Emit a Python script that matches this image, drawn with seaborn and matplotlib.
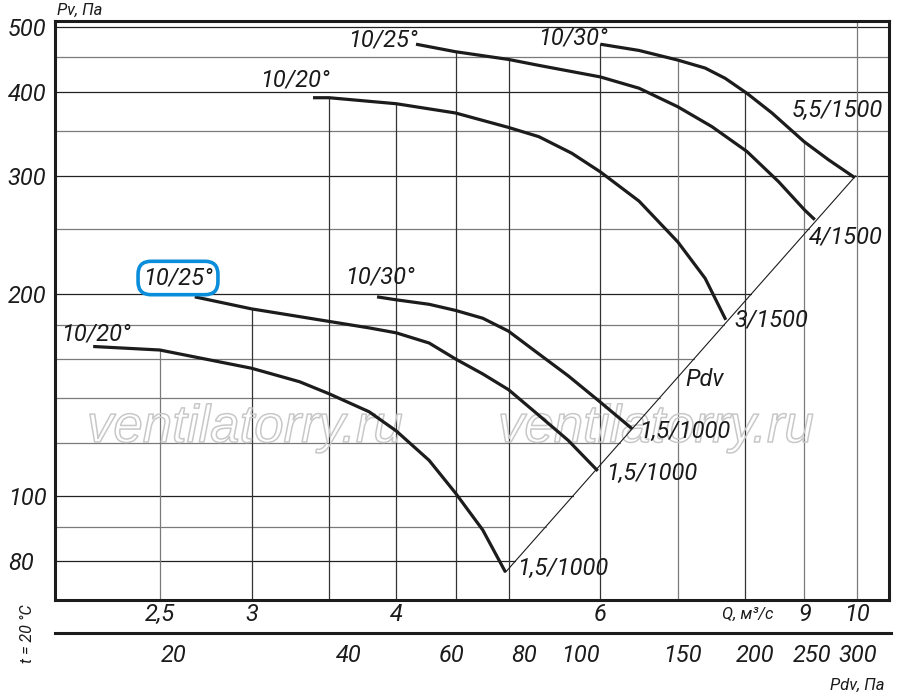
import numpy as np
import pandas as pd
import seaborn as sns
import matplotlib.pyplot as plt
import matplotlib.patheffects as pe
from matplotlib.ticker import NullLocator

# fan curves: Q in m3/s, Pv in Pa
q_2020_low = [2.19, 2.50, 3.00, 3.30, 3.50, 3.79, 4.00, 4.27, 4.50, 4.75, 4.97]
pv_2020_low = [167, 165, 155, 148, 142, 133.5, 125, 113, 101, 89, 77]

q_2025_low = [2.68, 3.00, 3.50, 3.79, 4.00, 4.27, 4.50, 4.75, 5.00, 5.28, 5.63, 5.97]
pv_2025_low = [198, 190, 182, 178, 175, 169, 160, 152, 144, 133, 121, 109]

q_2030_low = [3.85, 4.00, 4.27, 4.50, 4.75, 5.00, 5.28, 5.63, 6.00, 6.39]
pv_2030_low = [198, 196, 193, 189, 184, 176, 164, 151, 138, 126]

q_2020_up = [3.39, 3.50, 4.00, 4.50, 5.00, 5.31, 5.67, 6.00, 6.48, 7.00, 7.39, 7.70]
pv_2020_up = [392, 392, 384, 372, 354, 343, 324, 304, 275, 239, 211, 183]

q_2025_up = [4.16, 4.50, 5.00, 5.31, 6.00, 6.48, 7.00, 7.49, 8.03, 8.55, 9.00, 9.19]
pv_2025_up = [471, 459, 447, 438, 421, 405, 380, 355, 326, 294, 267, 258]

q_2030_up = [6.00, 6.48, 7.00, 7.39, 7.69, 8.03, 8.44, 9.00, 9.44, 9.95]
pv_2030_up = [471, 461, 446, 434, 419, 398, 372, 337, 317, 298]

# dynamic pressure line (Pv = Pdv) through the curve ends
pdv_q = [4.97, 9.97]
pdv_pv = [77, 300]

# grid and ticks
grid_pv_short = [80, 90, 100, 120, 140, 160, 180, 200, 250]
grid_pv_full = [300, 350, 400, 450, 500]
grid_q = [2.5, 3, 3.5, 4, 4.5, 5, 6, 7, 8, 9, 10]
pv_ticks = [80, 100, 200, 300, 400, 500]
q_ticks = [2.5, 3, 4, 6, 9, 10]
q_labels = ["2,5", "3", "4", "6", "9", "10"]
pdv_ticks = [20, 40, 60, 80, 100, 150, 200, 250, 300]

curves = {
    "low 10/20": (q_2020_low, pv_2020_low),
    "low 10/25": (q_2025_low, pv_2025_low),
    "low 10/30": (q_2030_low, pv_2030_low),
    "up 10/20": (q_2020_up, pv_2020_up),
    "up 10/25": (q_2025_up, pv_2025_up),
    "up 10/30": (q_2030_up, pv_2030_up),
}

sns.set_style("white")
plt.rcParams["font.family"] = ["Roboto", "DejaVu Sans"]
plt.rcParams["font.style"] = "italic"
plt.rcParams["text.color"] = "#1a1a1a"

W, H = 900, 694
INK = "#1c1c1c"
fig = plt.figure(figsize=(9, 6.94), dpi=100)
L, R, T, B = 55, 889, 21, 600
ax = fig.add_axes([L / W, 1 - B / H, (R - L) / W, (B - T) / H])
ax.set_xscale("log")
ax.set_yscale("log")
xlim = (2.03, 10.65)
ylim = (70, 510)

df = pd.concat([pd.DataFrame({"Q": q, "Pv": p, "curve": name})
                for name, (q, p) in curves.items()], ignore_index=True)
sns.lineplot(data=df, x="Q", y="Pv", units="curve", estimator=None, sort=False,
             color=INK, linewidth=2.3, ax=ax, zorder=4, legend=False,
             solid_joinstyle="round", solid_capstyle="butt")
ax.plot(pdv_q, pdv_pv, color=INK, linewidth=0.8, zorder=3)


def top_of(q):
    tops = []
    for qs, ps in curves.values():
        if qs[0] - 1e-9 <= q <= qs[-1] + 1e-9:
            tops.append(10 ** np.interp(np.log10(q), np.log10(qs), np.log10(ps)))
    return max(tops) if tops else ylim[1]


for p in grid_pv_short:
    xend = 10 ** np.interp(np.log10(p), np.log10(pdv_pv), np.log10(pdv_q))
    c = "#222222" if p in pv_ticks else "#7a7a7a"
    ax.plot([xlim[0], xend], [p, p], color=c, linewidth=0.9, zorder=1)
for p in grid_pv_full:
    c = "#222222" if p in pv_ticks else "#7a7a7a"
    ax.plot(xlim, [p, p], color=c, linewidth=0.9, zorder=1)
for q in grid_q:
    c = "#7a7a7a" if q in (2.5, 7, 9, 10) else "#333333"
    ax.plot([q, q], [ylim[0], top_of(q)], color=c, linewidth=0.9, zorder=1)

ax.set_xlim(xlim)
ax.set_ylim(ylim)
ax.set_xlabel("")
ax.set_ylabel("")
ax.xaxis.set_minor_locator(NullLocator())
ax.yaxis.set_minor_locator(NullLocator())
ax.set_yticks(pv_ticks, [str(v) for v in pv_ticks])
ax.set_xticks(q_ticks, q_labels)
ax.tick_params(axis="y", length=0, pad=34, labelsize=17, labelcolor=INK)
ax.tick_params(axis="x", length=0, pad=2, labelsize=17, labelcolor=INK)
for t in ax.get_yticklabels():
    t.set_ha("left")
for s in ax.spines.values():
    s.set_visible(True)
    s.set_linewidth(2.2)
    s.set_color(INK)

# watermark
for cx in (245, 656):
    ax.text(cx / W, 1 - 442 / H, "ventilatorry.ru", transform=fig.transFigure,
            ha="center", va="baseline", fontsize=38, family="Liberation Sans",
            style="italic", color=(1, 1, 1, 0), zorder=2,
            path_effects=[pe.withStroke(linewidth=1.1, foreground="#c8c8c8")])

# secondary Pdv axis
ax2 = fig.add_axes([L / W, 1 - 633 / H, (891 - L) / W, 0.02])
ax2.patch.set_visible(False)
ax2.set_xscale("log")
ax2.set_xlim(12.5, 342)
ax2.xaxis.set_minor_locator(NullLocator())
ax2.set_xticks(pdv_ticks, [str(v) for v in pdv_ticks])
ax2.set_yticks([])
for side in ("top", "left", "right"):
    ax2.spines[side].set_visible(False)
ax2.spines["bottom"].set_linewidth(2.2)
ax2.spines["bottom"].set_color(INK)
ax2.tick_params(axis="x", direction="inout", length=6.5, width=0.9, color=INK,
                pad=5, labelsize=17, labelcolor=INK)


def put(x, y, s, size=17, ha="center", **kw):
    return fig.text(x / W, 1 - y / H, s, fontsize=size, ha=ha, va="center", **kw)


put(96, 334, "10/20°")
put(178, 278, "10/25°",
    bbox=dict(boxstyle="round,pad=0.22,rounding_size=0.55", fc="none",
              ec="#0a8edb", lw=2.6))
put(380, 277, "10/30°")
put(295, 80, "10/20°")
put(383, 40, "10/25°")
put(573, 38, "10/30°")
put(837, 110, "5,5/1500")
put(846, 237, "4/1500")
put(771, 320, "3/1500")
put(685, 431, "1,5/1000")
put(652, 473, "1,5/1000")
put(563, 568, "1,5/1000")
put(705, 379, "Pdv")
put(748, 614, "Q, м³/с", size=12)
put(57, 10, "Pv, Па", size=12, ha="left")
put(885, 685, "Pdv, Па", size=12, ha="right")
fig.text(28 / W, 1 - 634 / H, "t = 20 °C", rotation=90, fontsize=11.5,
         ha="center", va="center")

fig.savefig("out.png", dpi=100)
